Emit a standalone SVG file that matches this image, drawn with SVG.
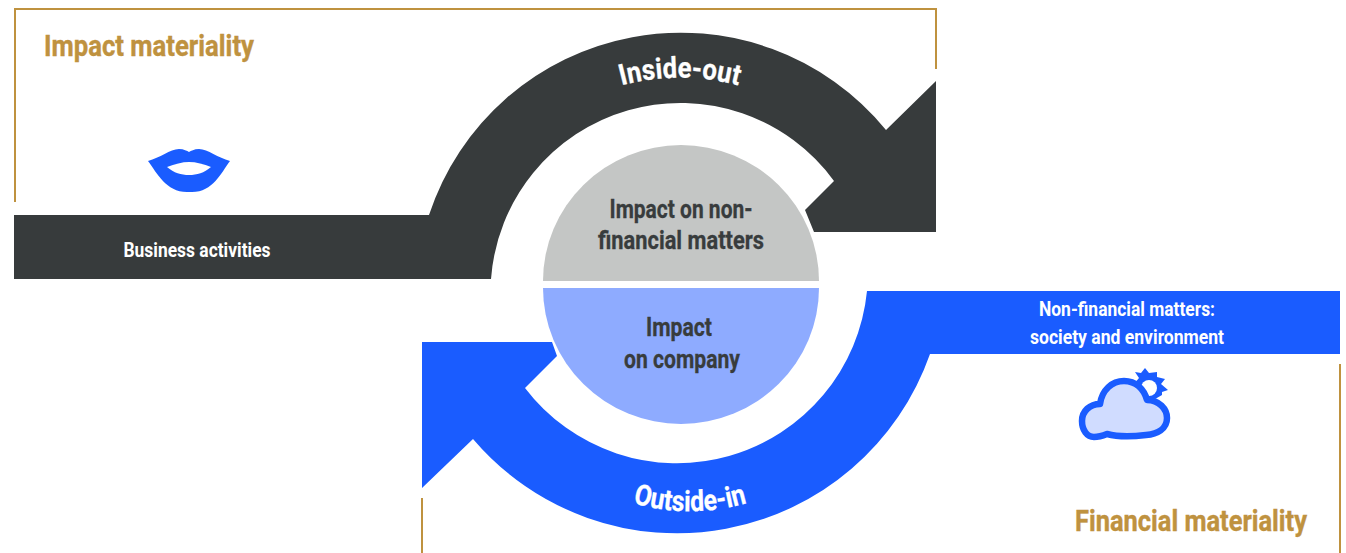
<svg xmlns="http://www.w3.org/2000/svg" width="1346" height="553" viewBox="0 0 1346 553">
<style>
.t{font-family:"Roboto","Liberation Sans",sans-serif;font-weight:700;text-anchor:middle}
.g{fill:none;stroke:#bf923f;stroke-width:2}
.h{font-size:29px;fill:#bf923f;stroke:#bf923f;stroke-width:.4px}
.w{font-size:20px;fill:#fff}
.c{font-size:26px;fill:#383c3d;stroke:#383c3d;stroke-width:.3px}
.a{font-size:29px;fill:#fff;stroke:#fff;stroke-width:.3px}
</style>
<defs>
<path id="arcTop" d="M580,101 A226,226 0 0 1 780,101"/>
<path id="arcBot" d="M590,485 A204,204 0 0 0 790,485"/>
</defs>
<g id="frames">
<path class="g" d="M15,202V9H936V69"/>
<path class="g" d="M422,498V553"/>
<path class="g" d="M1340,364V553"/>
</g>
<g id="connectors">
<path id="inside-out" fill="#373b3c" d="M14,215H429A265,265 0 0 1 886,130L936,81V232H814L805,210L834,181A190,190 0 0 0 491,279H14Z"/>
<path id="outside-in" fill="#1a5cff" d="M1340,291H867A191,191 0 0 1 525,388L557,356L552,342H422V488L473,439A268,268 0 0 0 930,354H1340Z"/>
</g>
<g id="top-half">
<path fill="#c4c6c5" d="M543,281A138,136 0 0 1 819,281Z"/>
<text class="t c"><tspan x="681" y="218" textLength="143" lengthAdjust="spacingAndGlyphs">Impact on non-</tspan><tspan x="681" y="249" textLength="166" lengthAdjust="spacingAndGlyphs">financial matters</tspan></text>
</g>
<g id="bottom-half">
<path fill="#8eabff" d="M543,288A138,136 0 0 0 819,288Z"/>
<text class="t c"><tspan x="679" y="336" textLength="66" lengthAdjust="spacingAndGlyphs">Impact</tspan><tspan x="682" y="368" textLength="116" lengthAdjust="spacingAndGlyphs">on company</tspan></text>
</g>
<g id="impact-materiality">
<text class="t h" x="149" y="56" textLength="210" lengthAdjust="spacingAndGlyphs">Impact materiality</text>
<path fill="#1a5cff" d="M148,161C160,158 170,149 179,149C184,149 187,151 189,152C191,151 194,149 199,149C208,149 218,158 230,161C221,173 213,192 192,192H187C166,192 157,173 148,161Z"/>
<path fill="#fff" d="M167,167C175,164 182,162 189,162C196,162 204,164 211,167C204,173 197,175 189,175C181,175 174,173 167,167Z"/>
</g>
<g id="financial-materiality">
<text class="t h" x="1191" y="531" textLength="232" lengthAdjust="spacingAndGlyphs">Financial materiality</text>
<path fill="#1a5cff" d="M1133,385L1139,378L1135,372L1141,373L1145,368L1149,373L1157,372L1157,377L1165,379L1161,384L1168,390L1162,392L1162,395L1150,402Z"/>
<circle cx="1149" cy="388" r="8" fill="#fff"/>
<path fill="#d0dcff" stroke="#1a5cff" stroke-width="6.5" stroke-linejoin="round" d="M1094,437C1087,437 1082,430 1082,421C1082,411 1090,404 1100,404C1102,390 1112,381 1124,381C1136,381 1144,389 1147,400C1159,400 1167,409 1167,418C1167,429 1157,434 1146,435C1130,437 1118,437 1107,434C1102,436 1099,437 1094,437Z"/>
</g>
<g id="labels">
<text class="t w" x="197" y="257" textLength="147" lengthAdjust="spacingAndGlyphs">Business activities</text>
<text class="t w"><tspan x="1127" y="316" textLength="176" lengthAdjust="spacingAndGlyphs">Non-financial matters:</tspan><tspan x="1127" y="344" textLength="194" lengthAdjust="spacingAndGlyphs">society and environment</tspan></text>
<text class="t a"><textPath href="#arcTop" startOffset="50%" textLength="118" lengthAdjust="spacingAndGlyphs">Inside-out</textPath></text>
<text class="t a"><textPath href="#arcBot" startOffset="50%" textLength="116" lengthAdjust="spacingAndGlyphs">Outside-in</textPath></text>
</g>
</svg>
